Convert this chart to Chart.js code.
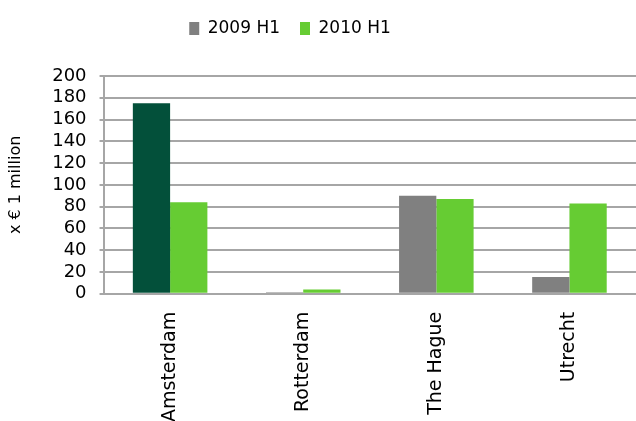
<!DOCTYPE html>
<html>
<head>
<meta charset="utf-8">
<script src="https://cdn.jsdelivr.net/npm/chart.js@4/dist/chart.umd.min.js"></script>
<style>
  html, body { margin: 0; padding: 0; background: #fff; }
  #wrap { width: 636px; height: 421px; }
</style>
</head>
<body>
<div id="wrap"><canvas id="chart"></canvas></div>
<script>
const cities = ["Amsterdam", "Rotterdam", "The Hague", "Utrecht"];
const seriesNames = ["2009 H1", "2010 H1"];
const values2009 = [175, 1.5, 90, 15.5];
const values2010 = [84, 4, 87, 83];
const yTicks = [0, 20, 40, 60, 80, 100, 120, 140, 160, 180, 200];

const GREY = "#808080";
const GREEN = "#66cc33";
const DARK_GREEN = "#03503a";
const GRID = "#a6a6a6";
const FONT = "'DejaVu Sans', sans-serif";

// Amsterdam's 2009 bar stands out in dark green, the rest stay grey
const colors2009 = cities.map((c, i) => (i === 0 ? DARK_GREEN : GREY));
const legendColors = [GREY, GREEN];

// extra room under the legend, and nudge it a bit to the left
const legendTweak = {
  id: "legendTweak",
  beforeInit(chart) {
    const fit = chart.legend.fit;
    chart.legend.fit = function () {
      fit.call(this);
      this.height += 29;
    };
  },
  afterLayout(chart) {
    chart.legend.left -= 31;
    chart.legend.right -= 31;
  },
};

new Chart(document.getElementById("chart"), {
  type: "bar",
  data: {
    labels: cities,
    datasets: [
      { label: seriesNames[0], data: values2009, backgroundColor: colors2009 },
      { label: seriesNames[1], data: values2010, backgroundColor: GREEN },
    ],
  },
  plugins: [legendTweak],
  options: {
    responsive: true,
    maintainAspectRatio: false,
    animation: false,
    layout: { padding: { top: 0, right: 0, bottom: -19, left: 6 } },
    datasets: {
      bar: { categoryPercentage: 0.56, barPercentage: 1.0 },
    },
    plugins: {
      tooltip: { enabled: false },
      legend: {
        position: "top",
        labels: {
          color: "#000",
          font: { family: FONT, size: 17 },
          boxWidth: 10,
          boxHeight: 13,
          padding: 20,
          generateLabels(chart) {
            const items = Chart.defaults.plugins.legend.labels.generateLabels(chart);
            items.forEach((it, i) => {
              it.fillStyle = legendColors[i];
              it.strokeStyle = legendColors[i];
              it.lineWidth = 0;
            });
            return items;
          },
        },
      },
    },
    scales: {
      x: {
        grid: { display: false, drawTicks: false },
        border: { display: true, color: GRID, width: 2 },
        ticks: {
          color: "#000",
          font: { family: FONT, size: 19 },
          maxRotation: 90,
          minRotation: 90,
          padding: 18,
          autoSkip: false,
        },
      },
      y: {
        min: 0,
        max: 200,
        afterBuildTicks(axis) {
          axis.ticks = yTicks.map((v) => ({ value: v }));
        },
        grid: {
          color: GRID,
          lineWidth: 2,
          drawTicks: true,
          tickLength: 4,
        },
        border: { display: true, color: GRID, width: 2 },
        ticks: {
          color: "#000",
          font: { family: FONT, size: 18 },
          padding: 13,
          autoSkip: false,
        },
        title: {
          display: true,
          text: "x € 1 million",
          color: "#000",
          font: { family: FONT, size: 16 },
          padding: { top: 0, bottom: 14 },
        },
      },
    },
  },
});
</script>
</body>
</html>
